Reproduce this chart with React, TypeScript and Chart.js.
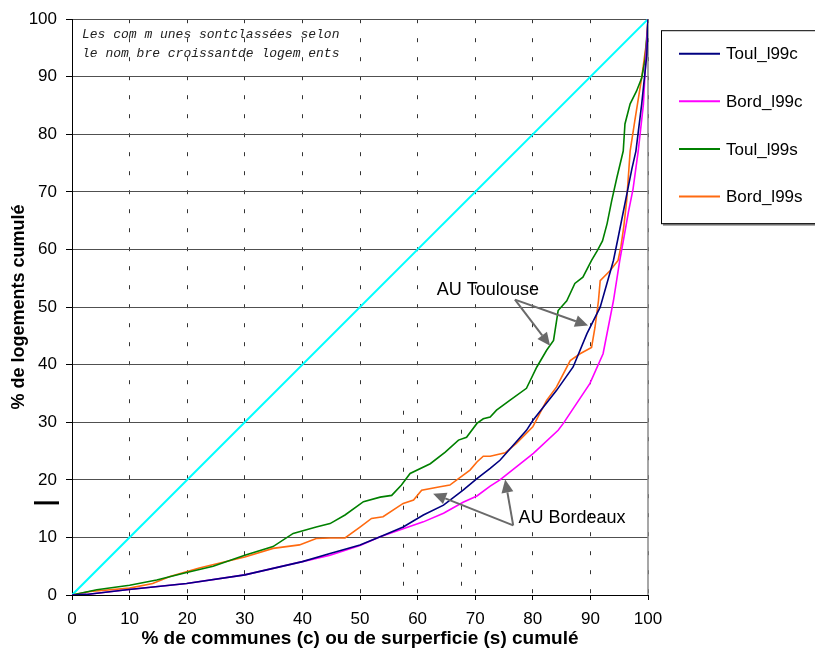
import React, { useEffect, useRef } from "react";
import { Chart, registerables } from "chart.js";

Chart.register(...registerables);

const FONT = "'Liberation Sans', Arial, Helvetica, sans-serif";

// ---- data ----
const tickValues = [0, 10, 20, 30, 40, 50, 60, 70, 80, 90, 100];

const seriesLabels = ["Toul_l99c", "Bord_l99c", "Toul_l99s", "Bord_l99s"];
const seriesColors = ["#000080", "#FF00FF", "#008000", "#FF6A10"];

const toulCX = [0, 2.5, 9.5, 19.9, 30, 40, 44.8, 50, 53.5, 57.5, 61, 64.5, 67.9, 70.3, 72.6, 74.3, 78.9, 80, 84.1, 87, 89.4, 91.7, 94, 94.8, 95.6, 96.4, 97.2, 97.9, 98.9, 99.8, 100];
const toulCY = [0, 0.1, 0.9, 2.0, 3.5, 5.8, 7.2, 8.7, 10.1, 11.8, 13.9, 15.6, 18.2, 20.2, 22.0, 23.4, 28.6, 30.3, 35.5, 39.6, 45.4, 50.0, 58.1, 62, 66, 70, 74, 77.1, 85.2, 93.9, 100];

const bordCX = [0, 2.5, 9.5, 19.9, 30, 40, 44.8, 50, 53.5, 57.5, 61, 64.5, 67.9, 70.3, 72.6, 74.3, 80.1, 84.4, 85.3, 89.9, 92.2, 94.0, 95.1, 95.8, 96.6, 97.4, 98.3, 99.2, 100];
const bordCY = [0, 0.1, 0.9, 2.0, 3.5, 5.8, 6.9, 8.6, 10.1, 11.5, 12.7, 14.2, 16.1, 17.2, 18.9, 20.0, 24.6, 28.6, 29.8, 36.7, 41.9, 51.1, 58.1, 62, 66.5, 70.5, 77.1, 85.2, 100];

const toulSX = [0, 4.3, 10, 14.7, 19.9, 24.5, 30, 34.9, 38.4, 42.4, 44.8, 47.4, 50.6, 53.5, 55.5, 57.2, 58.7, 62.2, 64.8, 67.1, 68.5, 70.3, 71.4, 72.6, 73.7, 76.0, 78.9, 80.7, 82.4, 83.6, 84.4, 85.9, 87.3, 88.7, 90.2, 91.2, 92.1, 92.9, 93.7, 94.6, 95.7, 96.0, 96.9, 98.0, 98.9, 99.5, 100];
const toulSY = [0, 0.9, 1.7, 2.6, 3.9, 5.0, 6.9, 8.4, 10.7, 11.8, 12.4, 13.9, 16.2, 17.0, 17.3, 19.1, 21.1, 22.8, 24.8, 26.9, 27.4, 29.8, 30.6, 30.9, 32.1, 33.8, 35.9, 39.6, 42.5, 44.2, 49.4, 51.1, 54.1, 55.2, 58.1, 59.8, 61.5, 64.5, 68.5, 72.5, 77.1, 81.8, 85.3, 87.5, 89.8, 93, 100];

const bordSX = [0, 3.1, 10, 14, 17, 22.1, 30, 34.9, 39.5, 42.4, 44.8, 47.4, 50, 52, 54, 57.5, 59.3, 60.7, 63.9, 65.6, 67.1, 69.1, 70.3, 71.4, 72.6, 75.2, 77.1, 80, 82.4, 84.1, 86.5, 88.2, 90.2, 90.8, 91.4, 91.7, 93.4, 94.8, 95.3, 95.8, 96.3, 96.9, 97.7, 98.9, 99.8, 100];
const bordSY = [0, 0.6, 1.2, 2.0, 3.2, 4.7, 6.6, 8.1, 8.7, 9.8, 9.9, 9.9, 11.8, 13.3, 13.6, 15.9, 16.5, 18.2, 18.8, 19.1, 20.2, 21.7, 23.1, 24.1, 24.1, 24.7, 26.3, 29.2, 33.8, 36.1, 40.7, 41.9, 43.0, 46.5, 51.1, 54.6, 56.3, 58.1, 60.5, 64, 68.5, 77.1, 82.3, 89.8, 96.5, 100];

const diagX = [0, 100];
const diagY = [0, 100];

const noteLines = ["Les com m unes sontclassées selon", "le nom bre croissantde logem ents"];

const toulouseLabel = "AU Toulouse";
const toulouseText = [72.2, 52.9];
const toulouseFrom = [76.9, 51.3];
const toulouseTo = [[83.0, 43.3], [89.6, 46.8]];

const bordeauxLabel = "AU Bordeaux";
const bordeauxText = [77.5, 13.3];
const bordeauxFrom = [76.6, 12.1];
const bordeauxTo = [[62.7, 17.6], [75.2, 20.05]];

const extraDashX = [57.5, 67.5];
const extraDashTop = 32;

const zip = (xs: number[], ys: number[]) => xs.map((v, i) => ({ x: v, y: ys[i] }));

function drawArrow(ctx: CanvasRenderingContext2D, x1: number, y1: number, x2: number, y2: number) {
  const ang = Math.atan2(y2 - y1, x2 - x1);
  const hl = 13, hw = 6;
  const bx = x2 - hl * Math.cos(ang), by = y2 - hl * Math.sin(ang);
  ctx.beginPath();
  ctx.moveTo(x1, y1);
  ctx.lineTo(bx, by);
  ctx.stroke();
  ctx.beginPath();
  ctx.moveTo(x2, y2);
  ctx.lineTo(bx + hw * Math.sin(ang), by - hw * Math.cos(ang));
  ctx.lineTo(bx - hw * Math.sin(ang), by + hw * Math.cos(ang));
  ctx.closePath();
  ctx.fill();
}

const decorPlugin = {
  id: "decor",
  beforeDatasetsDraw(chart: any) {
    const { ctx, chartArea: ca, scales } = chart;
    const x = scales.x, y = scales.y;
    ctx.save();
    ctx.strokeStyle = "#333";
    ctx.lineWidth = 1;
    ctx.setLineDash([4, 15]);
    for (const v of extraDashX) {
      const px = Math.round(x.getPixelForValue(v)) + 0.5;
      ctx.beginPath();
      ctx.moveTo(px, y.getPixelForValue(extraDashTop));
      ctx.lineTo(px, ca.bottom);
      ctx.stroke();
    }
    ctx.setLineDash([]);
    ctx.strokeStyle = "#8a8a8a";
    ctx.lineWidth = 1.5;
    ctx.beginPath();
    ctx.moveTo(ca.right, ca.top);
    ctx.lineTo(ca.right, ca.bottom);
    ctx.stroke();
    ctx.fillStyle = "#222";
    ctx.font = "italic 13px 'Liberation Mono', 'Courier New', monospace";
    ctx.textBaseline = "middle";
    ctx.textAlign = "left";
    noteLines.forEach((t, i) => ctx.fillText(t, ca.left + 10, ca.top + 15 + i * 19));
    ctx.fillStyle = "#000";
    ctx.fillRect(y.left + 34, y.getPixelForValue(16) - 1.5, 25, 3);
    ctx.restore();
  },
  afterDatasetsDraw(chart: any) {
    const { ctx, scales } = chart;
    const x = scales.x, y = scales.y;
    ctx.save();
    ctx.strokeStyle = "#6a6a6a";
    ctx.fillStyle = "#6a6a6a";
    ctx.lineWidth = 2;
    const groups: [string, number[], number[], number[][], string][] = [
      [toulouseLabel, toulouseText, toulouseFrom, toulouseTo, "center"],
      [bordeauxLabel, bordeauxText, bordeauxFrom, bordeauxTo, "left"],
    ];
    for (const [, , from, tos] of groups) {
      for (const t of tos) {
        drawArrow(ctx, x.getPixelForValue(from[0]), y.getPixelForValue(from[1]), x.getPixelForValue(t[0]), y.getPixelForValue(t[1]));
      }
    }
    ctx.fillStyle = "#000";
    ctx.font = `18px ${FONT}`;
    ctx.textBaseline = "middle";
    for (const [label, tp, , , align] of groups) {
      ctx.textAlign = align as CanvasTextAlign;
      ctx.fillText(label, x.getPixelForValue(tp[0]), y.getPixelForValue(tp[1]));
    }
    ctx.restore();
  },
  afterDraw(chart: any) {
    const { ctx, chartArea: ca } = chart;
    ctx.save();
    const lx = ca.right + 13, ly = ca.top + 11, w = 170, h = 193;
    ctx.fillStyle = "#fff";
    ctx.fillRect(lx, ly, w, h);
    ctx.fillStyle = "#8a8a8a";
    ctx.fillRect(lx + 2, ly + h, w, 2.5);
    ctx.strokeStyle = "#000";
    ctx.lineWidth = 1;
    ctx.strokeRect(lx + 0.5, ly + 0.5, w, h);
    ctx.font = `17px ${FONT}`;
    ctx.textBaseline = "middle";
    ctx.textAlign = "left";
    seriesLabels.forEach((lab, i) => {
      const yy = ly + 23.5 + i * 47.6;
      ctx.strokeStyle = seriesColors[i];
      ctx.lineWidth = 2;
      ctx.beginPath();
      ctx.moveTo(lx + 18, yy);
      ctx.lineTo(lx + 59, yy);
      ctx.stroke();
      ctx.fillStyle = "#000";
      ctx.fillText(lab, lx + 65, yy + 1);
    });
    ctx.restore();
  },
};

export default function App() {
  const ref = useRef<HTMLCanvasElement | null>(null);
  useEffect(() => {
    document.body.style.margin = "0";
    if (!ref.current) return;
    const xs = [toulCX, bordCX, toulSX, bordSX];
    const ys = [toulCY, bordCY, toulSY, bordSY];
    const datasets: any[] = seriesLabels.map((lab, i) => ({
      label: lab,
      data: zip(xs[i], ys[i]),
      borderColor: seriesColors[i],
      backgroundColor: seriesColors[i],
      borderWidth: 1.6,
      pointRadius: 0,
      tension: 0,
      fill: false,
    }));
    datasets.push({
      label: "diag",
      data: zip(diagX, diagY),
      borderColor: "#00FFFF",
      backgroundColor: "#00FFFF",
      borderWidth: 2,
      pointRadius: 0,
      fill: false,
    });
    const setTicks = (scale: any) => {
      scale.ticks = tickValues.map((v) => ({ value: v }));
    };
    const chart = new Chart(ref.current, {
      type: "line",
      data: { datasets },
      options: {
        animation: false,
        responsive: false,
        layout: { padding: { top: 18, right: 167, left: 0, bottom: 0 } },
        plugins: { legend: { display: false }, tooltip: { enabled: false }, title: { display: false } },
        scales: {
          x: {
            type: "linear",
            min: 0,
            max: 100,
            afterBuildTicks: setTicks,
            afterFit: (s: any) => { s.height = 60; },
            ticks: { padding: 9, color: "#000", font: { size: 17, family: FONT }, maxRotation: 0, autoSkip: false },
            grid: { color: "#333", lineWidth: 1, tickColor: "#000", tickLength: 5, tickBorderDash: [] },
            border: { color: "#000", width: 1, dash: [4, 15] },
            title: {
              display: true,
              text: "% de communes (c) ou de surperficie (s) cumulé",
              color: "#000",
              font: { size: 19, weight: "bold", family: FONT },
              padding: { top: 2, bottom: 5 },
            },
          },
          y: {
            type: "linear",
            min: 0,
            max: 100,
            afterBuildTicks: setTicks,
            afterFit: (s: any) => { s.width = 72; },
            ticks: { padding: 9, color: "#000", font: { size: 17, family: FONT }, autoSkip: false },
            grid: { color: "#505050", lineWidth: 1, tickColor: "#000", tickLength: 6 },
            border: { color: "#000", width: 1 },
            title: {
              display: true,
              text: "% de logements cumulé",
              color: "#000",
              font: { size: 18, weight: "bold", family: FONT },
              padding: { top: 8, bottom: 0 },
            },
          },
        },
      },
      plugins: [decorPlugin],
    } as any);
    return () => chart.destroy();
  }, []);
  return (
    <div style={{ width: 815, height: 655 }}>
      <canvas ref={ref} width={815} height={655} style={{ display: "block" }} />
    </div>
  );
}
